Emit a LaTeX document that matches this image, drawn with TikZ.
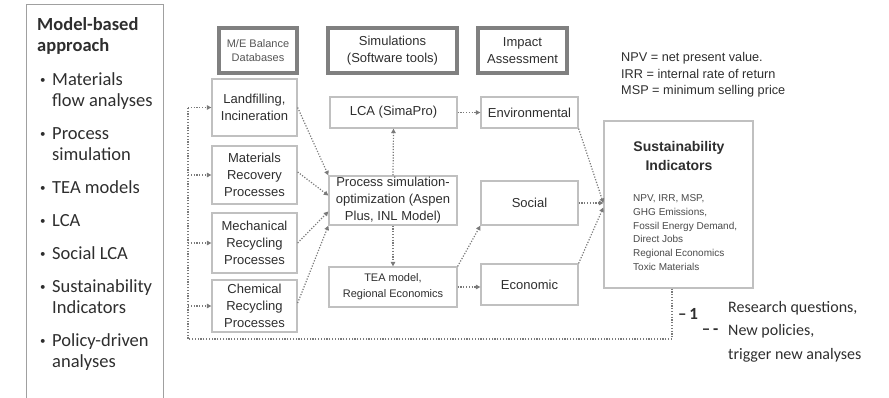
\documentclass[tikz,border=0pt]{standalone}
\usepackage{fontspec}
\setmainfont{Liberation Sans}
\newfontfamily\calfont{Carlito}
\usetikzlibrary{arrows.meta,calc}
\definecolor{txt}{HTML}{2E2E2E}
\definecolor{lst}{HTML}{4A4A4A}
\definecolor{hdrtxt}{HTML}{555555}
\definecolor{bx}{HTML}{C0C0C0}
\definecolor{lbx}{HTML}{A0A0A0}
\definecolor{hdr}{HTML}{808080}
\definecolor{arw}{HTML}{7A7A7A}
\newcommand\lbul{\makebox[15pt][l]{\hspace{3pt}\raisebox{2.5pt}{\fontsize{11}{11}\selectfont\textbullet}}}
\newcommand\lind{\hspace*{15pt}}
\begin{document}
\begin{tikzpicture}[x=1pt,y=-1pt,
  box/.style={draw=bx,line width=1.3pt,fill=white,inner sep=0pt,align=center,text=txt,font=\fontsize{13}{17}\selectfont},
  hdrbox/.style={draw=hdr,line width=3.5pt,inner sep=0pt,align=center,text=txt,font=\fontsize{13}{17}\selectfont},
  dotline/.style={draw=arw,line width=1.2pt,dash pattern=on 1.2pt off 1.6pt},
  arr/.style={dotline,-{Triangle[length=4.5pt,width=4.5pt]}},
  plain/.style={inner sep=0pt,text=txt}
]
\useasboundingbox (0,0) rectangle (889,397);

% left panel
\node[draw=lbx,line width=1.3pt,minimum width=137pt,minimum height=400pt,inner sep=0pt,anchor=north west] (leftbox) at (26,4) {};
\node[plain,anchor=west,align=left,font=\calfont\fontsize{18.5}{21}\selectfont] (lefttext) at (37,194) {%
\textbf{Model-based}\\
\textbf{approach}\\[13pt]
\lbul Materials\\
\lind flow analyses\\[12pt]
\lbul Process\\
\lind simulation\\[12pt]
\lbul TEA models\\[12pt]
\lbul LCA\\[12pt]
\lbul Social LCA\\[12pt]
\lbul Sustainability\\
\lind Indicators\\[12pt]
\lbul Policy-driven\\
\lind analyses};

% header boxes
\node[hdrbox,minimum width=78pt,minimum height=45pt,text=hdrtxt,font=\fontsize{11}{14}\selectfont] (hme) at (258,50.5) {M/E Balance\\Databases};
\node[hdrbox,minimum width=129pt,minimum height=45pt] (hsim) at (392.5,50.5) {Simulations\\(Software tools)};
\node[hdrbox,minimum width=89pt,minimum height=45pt] (himp) at (522.5,50.5) {Impact\\Assessment};

% left column
\node[box,minimum width=85pt,minimum height=57pt] (land) at (254.5,107.5) {Landfilling,\\Incineration};
\node[box,minimum width=85pt,minimum height=58pt] (matrec) at (254.5,175) {Materials\\Recovery\\Processes};
\node[box,minimum width=85pt,minimum height=60pt] (mech) at (254.5,243) {Mechanical\\Recycling\\Processes};
\node[box,minimum width=85pt,minimum height=52pt] (chem) at (254.5,306) {Chemical\\Recycling\\Processes};

% middle column
\node[box,minimum width=127pt,minimum height=31pt] (lca) at (393.5,112.5) {LCA (SimaPro)};
\node[box,minimum width=128pt,minimum height=49pt] (proc) at (393,200.5) {Process simulation-\\optimization (Aspen\\Plus, INL Model)};
\node[box,minimum width=128pt,minimum height=40pt,font=\fontsize{11}{16}\selectfont] (tea) at (393,287) {TEA model,\\Regional Economics};

% impact column
\node[box,minimum width=97pt,minimum height=31pt] (env) at (529.5,112.5) {Environmental};
\node[box,minimum width=97pt,minimum height=44pt] (social) at (529.5,203) {Social};
\node[box,minimum width=97pt,minimum height=41pt] (econ) at (529.5,284.5) {Economic};

% sustainability
\node[box,minimum width=149pt,minimum height=167pt] (sust) at (678.5,204.5) {};
\node[plain,align=center,font=\bfseries\fontsize{14}{19}\selectfont] (susttitle) at (679,155.5) {Sustainability\\Indicators};
\node[plain,anchor=west,align=left,text=lst,font=\fontsize{10}{13.7}\selectfont] (sustlist) at (633,232.5) {NPV, IRR, MSP,\\GHG Emissions,\\Fossil Energy Demand,\\Direct Jobs\\Regional Economics\\Toxic Materials};

% notes
\node[plain,anchor=west,align=left,font=\fontsize{12.7}{16.5}\selectfont] (abbr) at (621,75) {NPV = net present value.\\IRR = internal rate of return\\MSP = minimum selling price};
\node[plain,anchor=west,align=left,font=\calfont\fontsize{16}{23.5}\selectfont] (research) at (728,331.5) {Research questions,\\New policies,\\trigger new analyses};
\node[plain,font=\calfont\bfseries\fontsize{17}{18}\selectfont] (mark1) at (688,314) {–\,1};
\node[plain,font=\calfont\bfseries\fontsize{17}{18}\selectfont] (mark2) at (710,332) {–\,-};

% feedback loop
\coordinate (loopR) at (672,339);
\coordinate (loopL) at (188,339);
\draw[dotline] ([xshift=-6.5pt]sust.south) -- (loopR) -- (loopL) -- (land.west -| loopL);
\draw[arr] (land.west -| loopL) -- (land.west);
\draw[arr] (matrec.west -| loopL) -- (matrec.west);
\draw[arr] (mech.west -| loopL) -- (mech.west);
\draw[arr] (chem.west -| loopL) -- (chem.west);

% into process simulation
\draw[arr] (land.east) -- (proc.north west);
\draw[arr] ([yshift=3pt]matrec.east) -- ([yshift=5pt]proc.west);
\draw[arr] (mech.east) -- ([yshift=-11pt]proc.west);
\draw[arr] ([yshift=3pt]chem.east) -- (proc.south west);

% simulations
\draw[arr] (proc.north) -- (lca.south);
\draw[arr] (proc.south) -- (tea.north);
\draw[arr] (lca.east) -- (env.west);
\draw[arr] (tea.east) -- (tea.east -| econ.west);
\draw[arr] (tea.north east) -- (social.south west);

% to sustainability
\draw[arr] (env.south east) -- ([yshift=1.5pt]sust.west);
\draw[arr] (social.east) -- (social.east -| sust.west);
\draw[arr] (econ.north east) -- ([yshift=-3pt]sust.west);
\end{tikzpicture}
\end{document}
